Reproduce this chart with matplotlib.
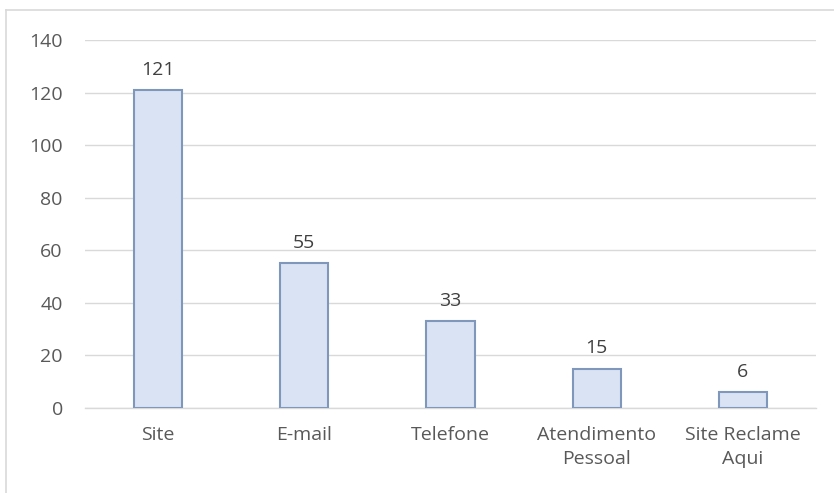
import numpy as np
import matplotlib
matplotlib.use('Agg')
import matplotlib.pyplot as plt
from matplotlib.lines import Line2D

categorias = ['Site', 'E-mail', 'Telefone', 'Atendimento\nPessoal', 'Site Reclame\nAqui']
valores = [121, 55, 33, 15, 6]
yticks = [0, 20, 40, 60, 80, 100, 120, 140]

plt.rcParams['font.family'] = ['Open Sans', 'DejaVu Sans']

fig = plt.figure(figsize=(8.34, 4.93), dpi=100)
W, H = 834, 493
ax = fig.add_axes([85 / W, 1 - 408 / H, (816 - 85) / W, (408 - 40) / H])

x = np.arange(len(categorias))
ax.bar(x, valores, width=0.33, color='#DAE3F3', edgecolor='#7F97BA',
       linewidth=1.5, zorder=3)
for xi, v in zip(x, valores):
    ax.annotate(str(v), (xi, v), xytext=(0, 8), textcoords='offset points',
                ha='center', va='bottom', fontsize=14, color='#404040')

ax.set_xlim(-0.5, len(categorias) - 0.5)
ax.set_ylim(0, 140)
ax.set_yticks(yticks)
ax.set_xticks(x)
ax.set_xticklabels(categorias, fontsize=14, color='#595959', linespacing=1.45)
ax.tick_params(axis='y', labelsize=14, labelcolor='#595959', length=0, pad=16)
ax.tick_params(axis='x', length=0, pad=13)
ax.grid(axis='y', color='#D9D9D9', linewidth=1, zorder=0)
for s in ['top', 'right', 'left']:
    ax.spines[s].set_visible(False)
ax.spines['bottom'].set_color('#D9D9D9')
ax.spines['bottom'].set_linewidth(1)

# moldura do gráfico
fig.add_artist(Line2D([6 / W, 1], [1 - 10 / H, 1 - 10 / H], transform=fig.transFigure,
                      color='#D9D9D9', linewidth=1.2))
fig.add_artist(Line2D([6 / W, 6 / W], [1 - 10 / H, 0], transform=fig.transFigure,
                      color='#D9D9D9', linewidth=1.2))

fig.savefig('out.png', dpi=100)
